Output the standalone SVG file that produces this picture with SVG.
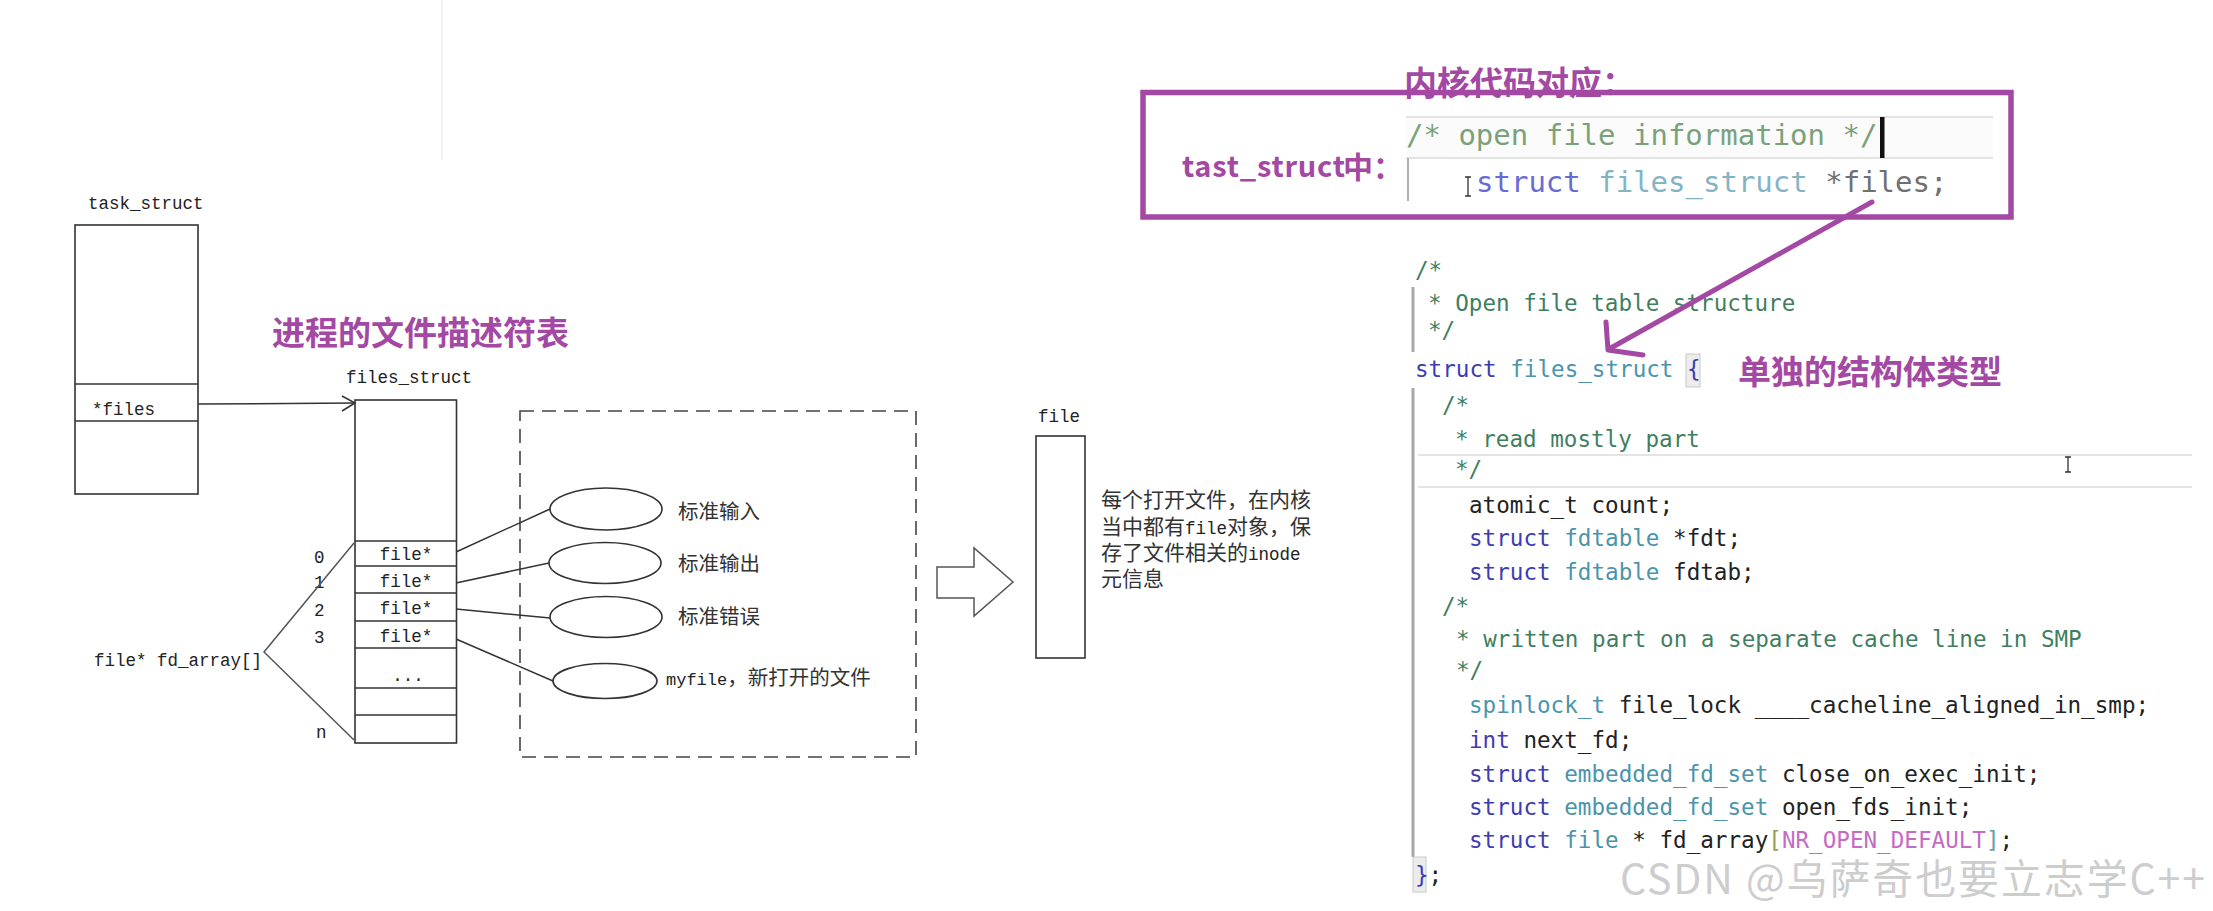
<svg xmlns="http://www.w3.org/2000/svg" width="2213" height="911" viewBox="0 0 2213 911">
<defs>
<style>
.mono{font-family:"Liberation Mono","DejaVu Sans Mono",monospace;font-size:17.5px;fill:#222}
.cjk{font-family:"Noto Sans CJK SC","Noto Sans",sans-serif;font-size:20.5px;fill:#333}
.cjk21{font-family:"Noto Sans CJK SC","Noto Sans",sans-serif;font-size:21px;fill:#333}
.box{fill:#fff;stroke:#333;stroke-width:1.6}
.ln{stroke:#333;stroke-width:1.5;fill:none}
.pt{fill:#a349a4;font-family:"Noto Sans CJK SC","Noto Sans",sans-serif;font-weight:700}
.code{font-family:"DejaVu Sans Mono","Liberation Mono",monospace;font-size:22.6px;fill:#222}
.big{font-family:"DejaVu Sans Mono","Liberation Mono",monospace;font-size:29px}
.cm{fill:#3f7f5f}
.kw{fill:#3c3cb4}
.ty{fill:#4a94ac}
.mac{fill:#c46cc4}
.gb{stroke:#a8a8a8;stroke-width:3}
.hl{stroke:#e4e4e4;stroke-width:2}
.cur{stroke:#333;stroke-width:1.3;fill:none}
</style>
</defs>
<rect width="2213" height="911" fill="#fff"/>
<line x1="442" y1="0" x2="442" y2="160" stroke="#eeeeee" stroke-width="1.5"/>

<g id="task_struct">
<text class="mono" x="88" y="209">task_struct</text>
<rect class="box" x="75" y="225" width="123" height="269"/>
<line class="ln" x1="75" y1="384" x2="198" y2="384"/>
<line class="ln" x1="75" y1="421" x2="198" y2="421"/>
<text class="mono" x="92" y="415">*files</text>
</g>

<g id="title_left">
<text class="pt" x="272" y="345" font-size="33">进程的文件描述符表</text>
</g>

<g id="files_struct">
<text class="mono" x="346" y="383">files_struct</text>
<rect class="box" x="355" y="400" width="101.5" height="343"/>
<line class="ln" x1="355" y1="541" x2="456.5" y2="541"/>
<line class="ln" x1="355" y1="566" x2="456.5" y2="566"/>
<line class="ln" x1="355" y1="593" x2="456.5" y2="593"/>
<line class="ln" x1="355" y1="621" x2="456.5" y2="621"/>
<line class="ln" x1="355" y1="648" x2="456.5" y2="648"/>
<line class="ln" x1="355" y1="688" x2="456.5" y2="688"/>
<line class="ln" x1="355" y1="715" x2="456.5" y2="715"/>
<text class="mono" x="406" y="560" text-anchor="middle">file*</text>
<text class="mono" x="406" y="587" text-anchor="middle">file*</text>
<text class="mono" x="406" y="614" text-anchor="middle">file*</text>
<text class="mono" x="406" y="642" text-anchor="middle">file*</text>
<text class="mono" x="408" y="681" text-anchor="middle">...</text>
</g>

<g id="fd_array">
<text class="mono" x="94" y="666">file* fd_array[]</text>
<text class="mono" x="314" y="563">0</text>
<text class="mono" x="314" y="588">1</text>
<text class="mono" x="314" y="616">2</text>
<text class="mono" x="314" y="643">3</text>
<text class="mono" x="316" y="738">n</text>
<polyline points="354,543 264,652 354,740" fill="none" stroke="#555" stroke-width="1.5"/>
</g>

<g id="open_files">
<rect x="520" y="411" width="396" height="346" fill="none" stroke="#444" stroke-width="1.6" stroke-dasharray="14 8"/>
<ellipse class="box" cx="606" cy="509" rx="56" ry="21"/>
<ellipse class="box" cx="605" cy="563" rx="56" ry="20.5"/>
<ellipse class="box" cx="606" cy="617" rx="56" ry="20.5"/>
<ellipse class="box" cx="605" cy="681" rx="52" ry="17.5"/>
<text class="cjk" x="678" y="519">标准输入</text>
<text class="cjk" x="678" y="571">标准输出</text>
<text class="cjk" x="678" y="624">标准错误</text>
<text class="cjk" x="666" y="685"><tspan class="mono" style="font-size:17px">myfile</tspan>，新打开的文件</text>
</g>

<g id="file_obj">
<polygon points="937,567 974,567 974,548 1013,582 974,616 974,598 937,598" fill="#fff" stroke="#555" stroke-width="1.5"/>
<text class="mono" x="1038" y="422">file</text>
<rect class="box" x="1036" y="436" width="49" height="222"/>
<text class="cjk21" x="1101" y="507">每个打开文件，在内核</text>
<text class="cjk21" x="1101" y="534">当中都有<tspan class="mono">file</tspan>对象，保</text>
<text class="cjk21" x="1101" y="560">存了文件相关的<tspan class="mono">inode</tspan></text>
<text class="cjk21" x="1101" y="586">元信息</text>
</g>

<g id="kernel_box">
<text class="pt" x="1404" y="95" font-size="33">内核代码对应：</text>
<rect x="1406" y="117" width="587" height="41" fill="#fbfbfb"/>
<line class="hl" x1="1406" y1="117" x2="1993" y2="117"/>
<line class="hl" x1="1406" y1="158" x2="1993" y2="158"/>
<line x1="1408" y1="158" x2="1408" y2="201" stroke="#b0b0b0" stroke-width="2"/>
<text class="big" x="1406" y="145" fill="#7aa27a">/* open file information */</text>
<rect x="1880" y="117" width="4.5" height="41" fill="#111"/>
<text class="big" x="1476" y="192" xml:space="preserve"><tspan fill="#6a6ad6">struct</tspan> <tspan fill="#84b4c4">files_struct</tspan> <tspan fill="#707070">*files;</tspan></text>
<path class="cur" d="M1465 177 h6 M1468 177 v19 M1465 196 h6"/>
<rect x="1143" y="92.5" width="868" height="124.5" fill="none" stroke="#a349a4" stroke-width="5.5"/>
<text class="pt" x="1182" y="177" font-size="29" textLength="163" lengthAdjust="spacing">tast_struct</text>
<text class="pt" x="1343" y="178" font-size="30">中：</text>
</g>

<g id="code_block">
<line class="gb" x1="1413" y1="287" x2="1413" y2="352"/>
<line class="gb" x1="1413" y1="388" x2="1413" y2="857"/>
<line class="hl" x1="1418" y1="455" x2="2192" y2="455"/>
<line class="hl" x1="1418" y1="487" x2="2192" y2="487"/>
<rect x="1686" y="354" width="14" height="33" fill="#ececec" stroke="#c8c8c8" stroke-width="1"/>
<rect x="1413" y="857" width="13" height="35" fill="#ececec" stroke="#c8c8c8" stroke-width="1"/>
<text class="code cm" x="1415" y="278">/*</text>
<text class="code cm" x="1428" y="311">* Open file table structure</text>
<text class="code cm" x="1428" y="338">*/</text>
<text class="code" x="1415" y="377" xml:space="preserve"><tspan class="kw">struct</tspan> <tspan class="ty">files_struct</tspan> <tspan class="kw">{</tspan></text>
<text class="code cm" x="1442" y="413">/*</text>
<text class="code cm" x="1455" y="447">* read mostly part</text>
<text class="code cm" x="1455" y="477">*/</text>
<text class="code" x="1469" y="513">atomic_t count;</text>
<text class="code" x="1469" y="546" xml:space="preserve"><tspan class="kw">struct</tspan> <tspan class="ty">fdtable</tspan> *fdt;</text>
<text class="code" x="1469" y="580" xml:space="preserve"><tspan class="kw">struct</tspan> <tspan class="ty">fdtable</tspan> fdtab;</text>
<text class="code cm" x="1442" y="614">/*</text>
<text class="code cm" x="1456" y="647">* written part on a separate cache line in SMP</text>
<text class="code cm" x="1456" y="678">*/</text>
<text class="code" x="1469" y="713" xml:space="preserve"><tspan class="ty">spinlock_t</tspan> file_lock ____cacheline_aligned_in_smp;</text>
<text class="code" x="1469" y="748" xml:space="preserve"><tspan class="kw">int</tspan> next_fd;</text>
<text class="code" x="1469" y="782" xml:space="preserve"><tspan class="kw">struct</tspan> <tspan class="ty">embedded_fd_set</tspan> close_on_exec_init;</text>
<text class="code" x="1469" y="815" xml:space="preserve"><tspan class="kw">struct</tspan> <tspan class="ty">embedded_fd_set</tspan> open_fds_init;</text>
<text class="code" x="1469" y="848" xml:space="preserve"><tspan class="kw">struct</tspan> <tspan class="ty">file</tspan> * fd_array<tspan fill="#9a9a50">[</tspan><tspan class="mac">NR_OPEN_DEFAULT</tspan><tspan fill="#6aa0a0">]</tspan>;</text>
<text class="code" x="1415" y="883"><tspan class="kw">}</tspan>;</text>
<path class="cur" d="M2065 457 h6 M2068 457 v15 M2065 472 h6"/>
</g>

<g id="label_right">
<text class="pt" x="1738" y="384" font-size="33">单独的结构体类型</text>
</g>

<g id="connectors">
<line class="ln" x1="198" y1="404" x2="355" y2="403"/>
<polyline class="ln" points="342,396 355,403 342,411"/>
<line class="ln" x1="456" y1="552" x2="550" y2="509"/>
<line class="ln" x1="456" y1="583" x2="549" y2="563"/>
<line class="ln" x1="456" y1="609" x2="550" y2="618"/>
<line class="ln" x1="456" y1="639" x2="553" y2="681"/>
<line x1="1872" y1="202" x2="1609" y2="349" stroke="#a349a4" stroke-width="5" stroke-linecap="round"/>
<polyline points="1606,322 1608,350 1643,355" fill="none" stroke="#a349a4" stroke-width="5" stroke-linecap="round" stroke-linejoin="round"/>
</g>

<g id="watermark">
<text x="1620" y="894" font-family="'Noto Sans CJK SC','Noto Sans',sans-serif" font-weight="400" font-size="41" fill="#cdcdcd" textLength="585" lengthAdjust="spacing">CSDN @乌萨奇也要立志学C++</text>
</g>
</svg>
